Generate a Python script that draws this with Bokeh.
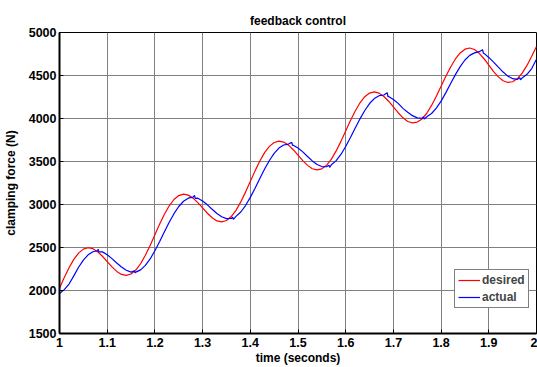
import numpy as np
from bokeh.plotting import figure
from bokeh.models import (Range1d, FixedTicker, CustomJSTickFormatter, Legend,
                          LegendItem, ColumnDataSource)
from bokeh.embed import file_html
from bokeh.resources import INLINE

# sample times (s), 10 ms apart
time_s = np.round(np.linspace(1.0, 2.0, 101), 3)

# reference clamping force (N)
desired = [2026, 2150, 2264, 2362, 2435, 2481, 2497, 2486, 2450, 2398,
           2336, 2274, 2222, 2187, 2176, 2192, 2238, 2311, 2410, 2524,
           2648, 2772, 2886, 2985, 3058, 3104, 3120, 3109, 3074, 3022,
           2960, 2898, 2846, 2809, 2798, 2814, 2860, 2932, 3030, 3144,
           3268, 3391, 3505, 3603, 3676, 3721, 3737, 3726, 3690, 3637,
           3575, 3510, 3455, 3416, 3402, 3415, 3458, 3528, 3623, 3734,
           3856, 3977, 4088, 4183, 4253, 4296, 4309, 4295, 4256, 4201,
           4136, 4067, 4008, 3965, 3950, 3958, 3995, 4061, 4152, 4259,
           4376, 4492, 4599, 4692, 4762, 4806, 4820, 4802, 4757, 4695,
           4620, 4544, 4484, 4439, 4419, 4427, 4464, 4528, 4617, 4723,
           4838]

# measured clamping force (N)
actual = [1965, 2010, 2075, 2170, 2270, 2354, 2415, 2451, 2462, 2449,
          2416, 2371, 2320, 2273, 2235, 2213, 2214, 2240, 2292, 2367,
          2462, 2569, 2682, 2793, 2893, 2977, 3038, 3074, 3086, 3073,
          3040, 2996, 2945, 2896, 2858, 2836, 2837, 2862, 2913, 2988,
          3083, 3189, 3302, 3412, 3512, 3595, 3656, 3692, 3703, 3689,
          3656, 3612, 3558, 3507, 3466, 3441, 3439, 3462, 3510, 3582,
          3675, 3779, 3889, 3996, 4093, 4174, 4232, 4265, 4273, 4257,
          4221, 4176, 4118, 4073, 4033, 4007, 4003, 4020, 4058, 4120,
          4202, 4301, 4407, 4510, 4603, 4680, 4734, 4763, 4777, 4757,
          4710, 4656, 4597, 4540, 4493, 4463, 4455, 4472, 4514, 4581,
          4690]

# short switching spikes in the measured signal
spike_t = [1.081, 1.0825, 1.157, 1.1585, 1.283, 1.2845, 1.363, 1.3645,
           1.487, 1.4885, 1.565, 1.5665, 1.687, 1.6885, 1.763, 1.7645,
           1.887, 1.8885, 1.965, 1.9665]
spike_v = [2480, 2448, 2228, 2205, 3105, 3072, 2852, 2828,
           3722, 3688, 3456, 3432, 4300, 4255, 4018, 3995,
           4800, 4760, 4474, 4450]

x_ticks = [1.0, 1.1, 1.2, 1.3, 1.4, 1.5, 1.6, 1.7, 1.8, 1.9, 2.0]
y_ticks = [1500, 2000, 2500, 3000, 3500, 4000, 4500, 5000]

FONT = "Liberation Sans"

act_t = np.concatenate([time_s, spike_t])
act_v = np.concatenate([actual, spike_v])
order = np.argsort(act_t, kind="stable")
src_des = ColumnDataSource(dict(t=time_s, v=desired))
src_act = ColumnDataSource(dict(t=act_t[order], v=act_v[order]))

p = figure(width=537, height=367, x_range=Range1d(1, 2), y_range=Range1d(1500, 5000),
           output_backend="svg", toolbar_location=None,
           min_border_left=56, min_border_right=1, min_border_top=32, min_border_bottom=33,
           title="feedback control")
p.background_fill_color = "white"
p.border_fill_color = "white"
p.outline_line_color = "black"
p.outline_line_width = 1

p.title.align = "center"
p.title.text_font = FONT
p.title.text_font_size = "12px"
p.title.text_font_style = "bold"
p.title.text_color = "black"

fmt = CustomJSTickFormatter(code="return (Math.round(tick * 10) / 10).toString();")
p.xaxis.ticker = FixedTicker(ticks=x_ticks)
p.xaxis.formatter = fmt
p.yaxis.ticker = FixedTicker(ticks=y_ticks)
p.xaxis.axis_label = "time (seconds)"
p.yaxis.axis_label = "clamping force (N)"

for ax in (p.xaxis, p.yaxis):
    ax.axis_line_color = "black"
    ax.axis_line_width = 2
    ax.major_tick_in = 4
    ax.major_tick_out = 0
    ax.major_tick_line_color = "black"
    ax.minor_tick_line_color = None
    ax.major_label_text_font = FONT
    ax.major_label_text_font_size = "12.5px"
    ax.major_label_text_font_style = "bold"
    ax.major_label_text_color = "black"
    ax.axis_label_text_font = FONT
    ax.axis_label_text_font_size = "12px"
    ax.axis_label_text_font_style = "bold"
    ax.axis_label_text_color = "black"
p.xaxis.major_label_standoff = 4
p.xaxis.axis_label_standoff = 1
p.yaxis.major_label_standoff = 3
p.yaxis.axis_label_standoff = 8

p.xgrid.ticker = FixedTicker(ticks=x_ticks)
p.ygrid.ticker = FixedTicker(ticks=y_ticks)
for g in (p.xgrid, p.ygrid):
    g.grid_line_color = "#808080"
    g.grid_line_width = 1

r_des = p.line("t", "v", source=src_des, line_color="#ff0000", line_width=1.2)
r_act = p.line("t", "v", source=src_act, line_color="#0000ff", line_width=1.2)

legend = Legend(items=[LegendItem(label="desired", renderers=[r_des]),
                       LegendItem(label="actual", renderers=[r_act])],
                location=(395, 25))
legend.border_line_color = "black"
legend.border_line_width = 1
legend.background_fill_color = "white"
legend.background_fill_alpha = 1
legend.label_text_font = FONT
legend.label_text_font_size = "12px"
legend.label_text_font_style = "bold"
legend.glyph_width = 22
legend.glyph_height = 14
legend.label_height = 14
legend.label_standoff = 2
legend.spacing = 3
legend.padding = 3
legend.margin = 0
p.add_layout(legend, "center")

open("out.html", "w").write(file_html(p, INLINE))
